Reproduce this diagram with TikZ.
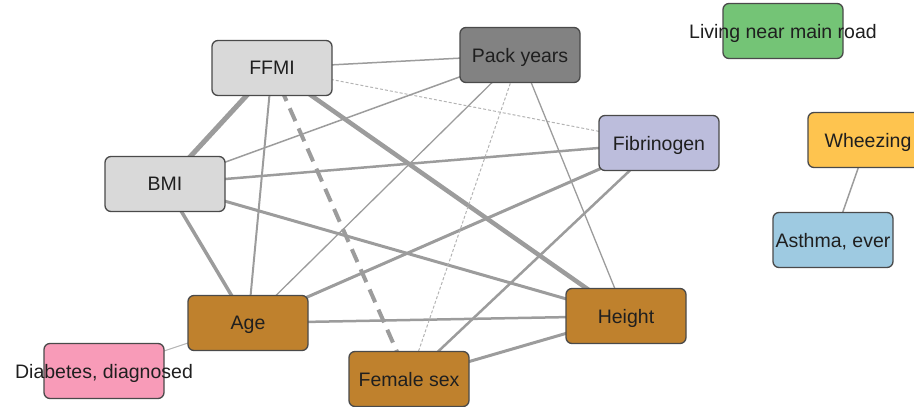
\documentclass[tikz,border=0pt]{standalone}
\usepackage{fontspec}
\setmainfont{Liberation Sans}
\usetikzlibrary{backgrounds}
\definecolor{edgec}{HTML}{9C9C9C}
\definecolor{edgel}{HTML}{B4B4B4}
\definecolor{bord}{HTML}{4A4A4A}
\definecolor{cgray}{HTML}{D9D9D9}
\definecolor{cdark}{HTML}{828282}
\definecolor{clav}{HTML}{BCBDDC}
\definecolor{cgreen}{HTML}{74C476}
\definecolor{cyel}{HTML}{FEC44F}
\definecolor{cblue}{HTML}{9ECAE1}
\definecolor{cbrown}{HTML}{BF812D}
\definecolor{cpink}{HTML}{F89BB8}
\tikzset{
  var/.style={draw=bord, line width=1.3pt, rounded corners=6pt, rectangle,
    minimum width=120pt, minimum height=55pt, inner sep=0pt,
    font=\fontsize{19.5}{23}\selectfont, text=black!88, text depth=0pt},
  edge/.style={draw=edgec, line cap=butt},
  ethin/.style={draw=edgel, line width=1pt},
}
\begin{document}
\begin{tikzpicture}[x=1pt, y=-1pt]
\clip (0,0) rectangle (914,407);
\node[var, fill=cgray]  (ffmi) at (272,68)  {FFMI};
\node[var, fill=cgray]  (bmi)  at (165,184) {BMI};
\node[var, fill=cdark]  (pack) at (520,55)  {Pack years};
\node[var, fill=clav]   (fib)  at (659,143) {Fibrinogen};
\node[var, fill=cgreen] (road) at (783,31)  {\makebox[0pt][c]{Living near main road}};
\node[var, fill=cyel]   (whz)  at (868,140) {Wheezing};
\node[var, fill=cblue]  (asth) at (833,240) {Asthma, ever};
\node[var, fill=cbrown] (hgt)  at (626,316) {Height};
\node[var, fill=cbrown] (age)  at (248,323) {Age};
\node[var, fill=cpink]  (dia)  at (104,371) {\makebox[0pt][c]{Diabetes, diagnosed}};
\node[var, fill=cbrown] (fem)  at (409,379) {Female sex};
\begin{scope}[on background layer]
\draw[edge, line width=5pt] (ffmi.center) -- (bmi.center);
\draw[edge, line width=4.5pt] (ffmi.center) -- (hgt.center);
\draw[edge, line width=4pt, dash pattern=on 14pt off 8pt] (ffmi.center) -- (fem.center);
\draw[edge, line width=2pt] (ffmi.center) -- (age.center);
\draw[edge, line width=1.5pt] (ffmi.center) -- (pack.center);
\draw[ethin, dash pattern=on 3pt off 2pt] (ffmi.center) -- (fib.center);
\draw[edge, line width=1.5pt] (bmi.center) -- (pack.center);
\draw[edge, line width=2.5pt] (bmi.center) -- (fib.center);
\draw[edge, line width=3pt] (bmi.center) -- (hgt.center);
\draw[edge, line width=3.5pt] (bmi.center) -- (age.center);
\draw[edge, line width=1.3pt] (age.center) -- (pack.center);
\draw[edge, line width=3pt] (age.center) -- (fib.center);
\draw[edge, line width=2.5pt] (age.center) -- (hgt.center);
\draw[ethin] (age.center) -- (dia.center);
\draw[ethin, dash pattern=on 3pt off 2pt] (pack.center) -- (fem.center);
\draw[edge, line width=1.3pt] (pack.center) -- (hgt.center);
\draw[edge, line width=2.5pt] (fib.center) -- (fem.center);
\draw[edge, line width=3pt] (hgt.center) -- (fem.center);
\draw[edge, line width=1.5pt] (whz.center) -- (asth.center);
\end{scope}
\end{tikzpicture}
\end{document}
